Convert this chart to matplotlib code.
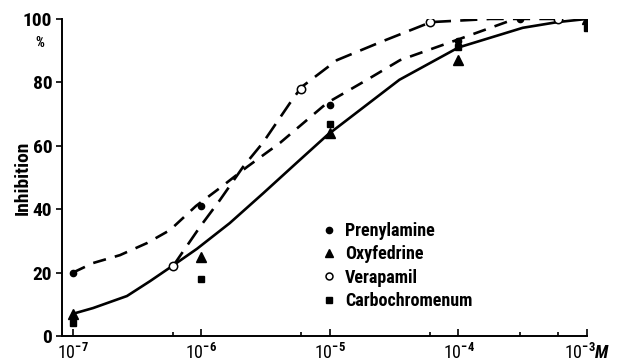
import numpy as np
import matplotlib
matplotlib.use("Agg")
import matplotlib.pyplot as plt
import matplotlib.font_manager as fm
from matplotlib.lines import Line2D
from matplotlib.ticker import FixedLocator, NullFormatter

# pick a narrow sans that is installed
installed = set(f.name for f in fm.fontManager.ttflist)
font = 'DejaVu Sans'
for name in ['Roboto Condensed', 'PT Sans Narrow', 'Archivo Narrow', 'Liberation Sans Narrow',
             'Pathway Gothic One', 'Oswald', 'Open Sans Condensed']:
    if name in installed:
        font = name
        break

plt.rcParams['font.family'] = [font, 'DejaVu Sans']
plt.rcParams['mathtext.fontset'] = 'custom'
plt.rcParams['mathtext.rm'] = font + ':bold'
plt.rcParams['mathtext.it'] = font + ':italic:bold'
plt.rcParams['mathtext.bf'] = font + ':bold'

# measured points (concentration in M, inhibition in %)
pren_conc = [1e-7, 1e-6, 1e-5, 1e-4, 3e-4]
pren_inh = [20, 41, 73, 93, 100]
oxy_conc = [1e-7, 1e-6, 1e-5, 1e-4, 1e-3]
oxy_inh = [7, 25, 64, 87, 100]
vera_conc = [6e-7, 6e-6, 6e-5, 6e-4]
vera_inh = [22, 78, 99, 100]
carbo_conc = [1e-7, 1e-6, 1e-5, 1e-4, 1e-3]
carbo_inh = [4, 18, 67, 91, 97]

# hand drawn curves (log10 concentration, %)
solid_logc = [-7.0, -6.844, -6.58, -6.40, -6.23, -6.035, -5.78, -5.52, -5.26, -5.02,
              -4.46, -4.0, -3.5, -3.23, -3.0]
solid_inh = [7, 8.8, 12.6, 17.3, 22, 27.5, 35.6, 45, 54.6, 63.4, 80.8, 91, 97.2, 99, 100]
pren_logc = [-7.0, -6.844, -6.634, -6.424, -6.245, -6.043, -5.856, -5.646, -5.389, -5.023,
             -4.712, -4.455, -4.004, -3.56]
pren_curve = [20, 23, 25.5, 29.3, 33.4, 41, 46.7, 53.3, 60.9, 73.5, 80.8, 87, 93.5, 100]
vera_logc = [-6.222, -6.012, -5.856, -5.677, -5.521, -5.311, -5.222, -4.946, -4.588,
             -4.214, -3.755, -3.222]
vera_curve = [22, 34.4, 42.9, 53.3, 61, 73.5, 78.5, 87, 93, 99, 100, 100]

decades = [1e-7, 1e-6, 1e-5, 1e-4, 1e-3]
dec_labels = ['10$^{-7}$', '10$^{-6}$', '10$^{-5}$', '10$^{-4}$', '10$^{-3}$$\\mathit{M}$']
minor_ticks = [6e-7, 6e-6, 6e-5, 3e-4, 6e-4]
y_ticks = [0, 20, 40, 60, 80, 100]

fig = plt.figure(figsize=(6.28, 3.64), dpi=100)
ax = fig.add_axes([0.0987, 0.077, 0.836, 0.871])

lw = 1.9
ax.plot(10 ** np.array(solid_logc), solid_inh, color='black', lw=lw)
ax.plot(10 ** np.array(pren_logc), pren_curve, color='black', lw=lw, dashes=(5, 3.5))
ax.plot(10 ** np.array(vera_logc), vera_curve, color='black', lw=lw, dashes=(6.5, 3.5))

ax.plot(pren_conc, pren_inh, 'o', color='black', ms=4.5, zorder=5)
ax.plot(oxy_conc, oxy_inh, '^', color='black', ms=7, zorder=5)
ax.plot(vera_conc, vera_inh, 'o', mfc='white', mec='black', mew=1.1, ms=6, zorder=6)
ax.plot(carbo_conc, carbo_inh, 's', color='black', ms=5, zorder=5)

ax.set_xscale('log')
ax.set_xlim(10 ** -7.0856, 1e-3)
ax.set_ylim(0, 100)
ax.spines['top'].set_visible(False)
ax.spines['right'].set_visible(False)
for s in ax.spines.values():
    s.set_linewidth(1.4)

ax.xaxis.set_major_locator(FixedLocator(decades))
ax.set_xticklabels(dec_labels, fontsize=13)
ax.xaxis.set_minor_locator(FixedLocator(minor_ticks))
ax.xaxis.set_minor_formatter(NullFormatter())
ax.tick_params(axis='x', which='major', direction='in', length=5, width=1.2, pad=5)
ax.tick_params(axis='x', which='minor', direction='in', length=3, width=1.2)

ax.set_yticks(y_ticks)
ax.set_yticklabels([str(v) for v in y_ticks], fontsize=14, fontweight='bold')
ax.tick_params(axis='y', direction='out', length=4, width=1.2, pad=3)

ax.set_ylabel('Inhibition', fontsize=14, fontweight='bold')
ax.yaxis.set_label_coords(-0.058, 0.5)
ax.text(-0.043, 0.925, '%', transform=ax.transAxes, fontsize=10, fontweight='bold',
        ha='center', va='center')

handles = [
    Line2D([], [], ls='none', marker='o', color='black', ms=4.5),
    Line2D([], [], ls='none', marker='^', color='black', ms=6),
    Line2D([], [], ls='none', marker='o', mfc='white', mec='black', mew=1.1, ms=5),
    Line2D([], [], ls='none', marker='s', color='black', ms=4),
]
labels = ['Prenylamine', 'Oxyfedrine', 'Verapamil', 'Carbochromenum']
ax.legend(handles, labels, loc='upper left', bbox_to_anchor=(0.491, 0.36),
          frameon=False, borderpad=0, borderaxespad=0, handlelength=1,
          handletextpad=0.4, labelspacing=0.3, prop={'size': 13, 'weight': 'bold'})

fig.savefig('out.png', dpi=100)
